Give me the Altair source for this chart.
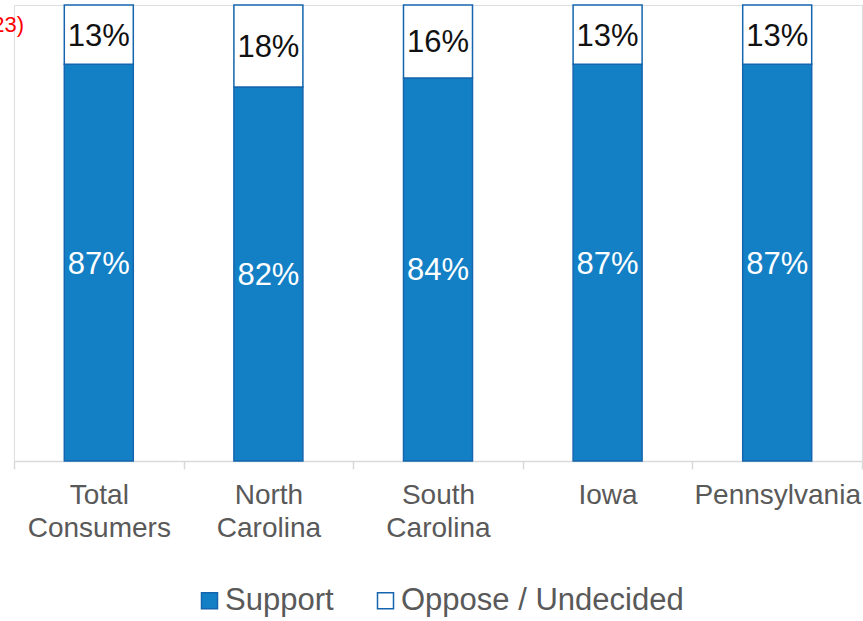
import altair as alt
import pandas as pd

categories = ["Total Consumers", "North Carolina", "South Carolina", "Iowa", "Pennsylvania"]
support = [87, 82, 84, 87, 87]
oppose = [13, 18, 16, 13, 13]
series = ["Support", "Oppose / Undecided"]

rows = []
for c, s, o in zip(categories, support, oppose):
    rows.append({"cat": c, "series": series[0], "value": s, "ord": 0})
    rows.append({"cat": c, "series": series[1], "value": o, "ord": 1})
df = pd.DataFrame(rows)

FONT = "Liberation Sans"
BLUE = "#1380C6"
EDGE = "#1565AE"

base = alt.Chart(df).transform_stack(
    stack="value", groupby=["cat"], as_=["y0", "y1"], sort=[alt.SortField("ord")]
).transform_calculate(mid="(datum.y0 + datum.y1) / 2")

xenc = alt.X(
    "cat:N", sort=categories, title=None,
    scale=alt.Scale(paddingInner=0, paddingOuter=0),
    axis=alt.Axis(
        labelAngle=0, labelExpr="split(datum.label, ' ')", labelFont=FONT,
        labelFontSize=28, labelColor="#595959", labelLineHeight=33,
        labelPadding=12, tickBand="extent", tickSize=8, tickColor="#d9d9d9",
        domainColor="#d9d9d9", domainWidth=1.5, tickWidth=1.5, grid=False,
    ),
)

bars = base.mark_bar(width=69, stroke=EDGE, strokeWidth=1.5).encode(
    x=xenc,
    y=alt.Y("y0:Q", scale=alt.Scale(domain=[0, 100]), axis=None),
    y2="y1:Q",
    color=alt.Color(
        "series:N", scale=alt.Scale(domain=series, range=[BLUE, "#ffffff"]), title=None,
        legend=alt.Legend(
            orient="none", legendX=180, legendY=580, direction="horizontal",
            symbolType="square", symbolSize=256, symbolStrokeColor=EDGE,
            symbolStrokeWidth=1.5, labelFont=FONT, labelFontSize=31,
            labelColor="#595959", columnPadding=36, labelOffset=0, padding=0,
            labelLimit=400,
        ),
    ),
)

labels = base.mark_text(font=FONT, fontSize=31, baseline="middle", dy=2).encode(
    x=alt.X("cat:N", sort=categories),
    y=alt.Y("mid:Q", scale=alt.Scale(domain=[0, 100])),
    text=alt.Text("label:N"),
    color=alt.Color("series:N", scale=alt.Scale(domain=series, range=["#ffffff", "#111111"]), legend=None),
).transform_calculate(label="datum.value + '%'")

note = alt.Chart(pd.DataFrame({"t": ["23)"]})).mark_text(
    font=FONT, fontSize=22, color="#ff0000", align="right", baseline="middle"
).encode(x=alt.value(10), y=alt.value(20), text="t:N")

chart = alt.layer(bars, labels, note).resolve_scale(color="independent").properties(
    width=848, height=456,
    padding={"left": 14, "top": 5, "right": 1, "bottom": 160},
    autosize=alt.AutoSizeParams(type="none"),
).configure_view(stroke=None).configure(background="white")

chart.save("out.html", embed_options={"renderer": "svg", "actions": False})
